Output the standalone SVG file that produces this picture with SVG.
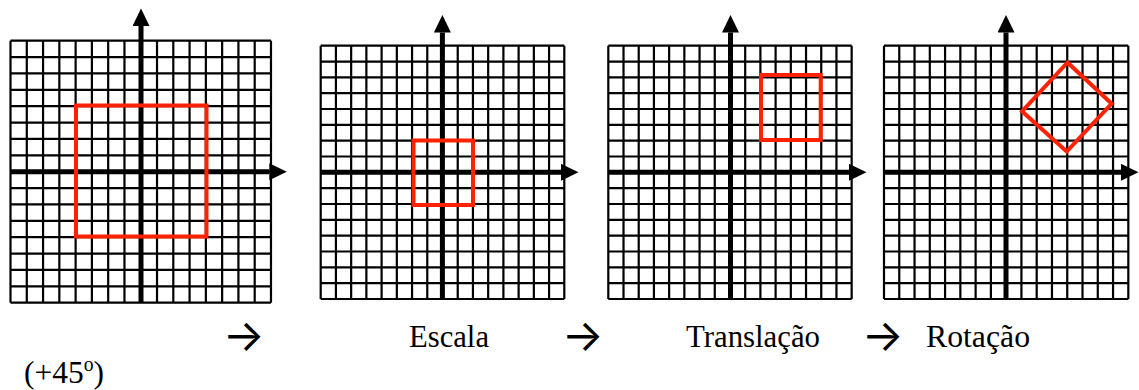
<svg xmlns="http://www.w3.org/2000/svg" xmlns:xlink="http://www.w3.org/1999/xlink" width="1139" height="390" viewBox="0 0 1139 390">
<style>
.grid{fill:none;stroke:#000;stroke-width:2.2;vector-effect:non-scaling-stroke}
.axis{fill:none;stroke:#000;stroke-width:5;marker-end:url(#ah)}
.shape{fill:none;stroke:#ff2200;stroke-width:4;stroke-linejoin:miter}
.lbl{font-family:"Liberation Serif","Times New Roman",serif;font-size:32px;fill:#000}
.arr{font-family:Inter,"DejaVu Sans",sans-serif;font-size:44px;fill:#000}
</style>
<defs>
<marker id="ah" markerUnits="userSpaceOnUse" markerWidth="18" markerHeight="18" refX="0" refY="8.5" orient="auto">
<path d="M0,0 L17.5,8.5 L0,17 Z" fill="#000"/>
</marker>
<path id="g" class="grid" d="M0 0V16M1 0V16M2 0V16M3 0V16M4 0V16M5 0V16M6 0V16M7 0V16M8 0V16M9 0V16M10 0V16M11 0V16M12 0V16M13 0V16M14 0V16M15 0V16M16 0V16M0 0H16M0 1H16M0 2H16M0 3H16M0 4H16M0 5H16M0 6H16M0 7H16M0 8H16M0 9H16M0 10H16M0 11H16M0 12H16M0 13H16M0 14H16M0 15H16M0 16H16"/>
</defs>
<rect width="1139" height="390" fill="#fff"/>
<g id="plot1">
<use xlink:href="#g" href="#g" transform="translate(10.5 40.7) scale(16.28 16.375)"/>
<path class="axis" d="M141 302.7V26"/>
<path class="axis" d="M10.5 171.7H269.3"/>
<rect class="shape" x="76" y="105.5" width="130.5" height="131"/>
</g>
<g id="plot2">
<use xlink:href="#g" href="#g" transform="translate(320.7 45.7) scale(15.225 15.83)"/>
<path class="axis" d="M442.4 299V32.5"/>
<path class="axis" d="M320.7 172.3H561"/>
<rect class="shape" x="413.5" y="140.5" width="59.5" height="64.5"/>
</g>
<g id="plot3">
<use xlink:href="#g" href="#g" transform="translate(608.3 45.7) scale(15.21 15.83)"/>
<path class="axis" d="M730.5 299V32.5"/>
<path class="axis" d="M608.3 172.3H849"/>
<rect class="shape" x="761" y="75" width="59.7" height="65"/>
</g>
<g id="plot4">
<use xlink:href="#g" href="#g" transform="translate(884 45.7) scale(15.27 15.83)"/>
<path class="axis" d="M1006 299V32.5"/>
<path class="axis" d="M884 172.3H1121"/>
<polygon class="shape" points="1067.5,62.5 1111.7,103.7 1066.7,151.5 1022,111.3"/>
</g>
<g id="labels">
<text class="arr" x="222.7" y="351">→</text>
<text class="lbl" x="409" y="347" textLength="80" lengthAdjust="spacingAndGlyphs">Escala</text>
<text class="arr" x="561.7" y="351">→</text>
<text class="lbl" x="686" y="347" textLength="134" lengthAdjust="spacingAndGlyphs">Translação</text>
<text class="arr" x="861.7" y="351">→</text>
<text class="lbl" x="926" y="347" textLength="104" lengthAdjust="spacingAndGlyphs">Rotação</text>
<text class="lbl" x="24" y="382.5" textLength="80" lengthAdjust="spacingAndGlyphs">(+45<tspan font-size="20" dy="-12">o</tspan><tspan dy="12">)</tspan></text>
</g>
</svg>
